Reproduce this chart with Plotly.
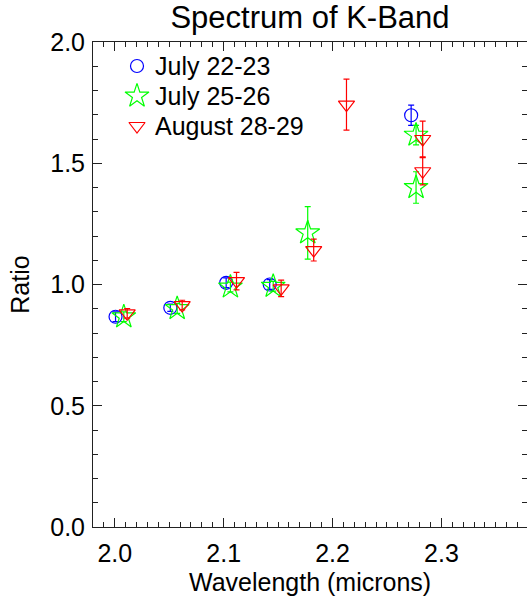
import plotly.graph_objects as go

# Data
blue_x = [2.0007, 2.051, 2.1023, 2.1423, 2.2722]
blue_y = [0.867, 0.904, 1.007, 1.000, 1.698]
blue_e = [0.020, 0.015, 0.020, 0.020, 0.042]

green_x = [2.0083, 2.0573, 2.1062, 2.1455, 2.1772, 2.2767, 2.2767]
green_y = [0.867, 0.901, 0.990, 0.993, 1.213, 1.616, 1.400]
green_e = [0.020, 0.020, 0.020, 0.020, 0.108, 0.040, 0.065]

red_x = [2.0114, 2.0619, 2.1118, 2.1528, 2.1827, 2.2128, 2.2828, 2.2828]
red_y = [0.881, 0.915, 1.014, 0.984, 1.142, 1.742, 1.600, 1.467]
red_e = [0.020, 0.020, 0.036, 0.034, 0.045, 0.105, 0.074, 0.056]

series_names = ["July 22-23", "July 25-26", "August 28-29"]
series_colors = ["#0000ff", "#00ff00", "#ff0000"]
series_symbols = ["circle-open", "star-open", "triangle-down-open"]
series_sizes = [13, 18, 14]
title_text = "Spectrum of K-Band"
x_title = "Wavelength (microns)"
y_title = "Ratio"

FONT = "Liberation Sans, Arial, sans-serif"

fig = go.Figure()

def add(xs, ys, es, i):
    c = series_colors[i]
    fig.add_trace(go.Scatter(
        x=xs, y=ys, mode="markers", name=series_names[i], showlegend=False,
        marker=dict(symbol=series_symbols[i], size=series_sizes[i], color=c,
                    line=dict(color=c, width=1.2)),
        error_y=dict(type="data", array=es, visible=True, color=c,
                     thickness=1.2, width=3),
    ))

add(blue_x, blue_y, blue_e, 0)
add(green_x, green_y, green_e, 1)
add(red_x, red_y, red_e, 2)

# Legend (drawn in a hidden overlay axis measured in plot pixels)
leg_x = 44      # px from the plot's left edge
leg_y = [24, 54, 84]  # px from the plot's top edge
for i, name in enumerate(series_names):
    c = series_colors[i]
    fig.add_trace(go.Scatter(
        x=[leg_x], y=[leg_y[i]], xaxis="x2", yaxis="y2", mode="markers",
        showlegend=False, hoverinfo="skip",
        marker=dict(symbol=series_symbols[i], size=series_sizes[i], color=c,
                    line=dict(color=c, width=1.2)),
    ))
    fig.add_annotation(x=leg_x + 16, y=leg_y[i], xref="x2", yref="y2",
                       text=name, showarrow=False, xanchor="left", yanchor="middle",
                       font=dict(family=FONT, size=25, color="black"))

# x-axis title as annotation for exact placement
fig.add_annotation(x=0.5, y=-0.1134, xref="paper", yref="paper", text=x_title,
                   showarrow=False, xanchor="center", yanchor="middle",
                   font=dict(family=FONT, size=25, color="black"))

axis_common = dict(
    showline=True, linecolor="#222", linewidth=1, mirror="ticks",
    ticks="inside", ticklen=9, tickcolor="#222", tickwidth=1,
    showgrid=False, zeroline=False, automargin=False,
    tickfont=dict(family=FONT, size=25, color="black"),
)

PW, PH = 434, 485

fig.update_layout(
    width=527, height=597,
    paper_bgcolor="white", plot_bgcolor="white",
    margin=dict(l=93, r=0, t=42, b=70),
    title=dict(text=title_text, x=0.5, xref="paper", xanchor="center",
               y=0.971, yref="container", yanchor="middle",
               font=dict(family=FONT, size=31, color="black")),
    xaxis=dict(range=[1.98, 2.3786], dtick=0.1, tick0=2.0, tickformat=".1f",
               minor=dict(dtick=0.01, ticks="inside", ticklen=5, tickcolor="#222"),
               ticklabelstandoff=4,
               **axis_common),
    yaxis=dict(range=[0, 2.0], dtick=0.5, tick0=0, tickformat=".1f",
               minor=dict(dtick=0.1, ticks="inside", ticklen=5, tickcolor="#222"),
               ticklabelstandoff=2,
               title=dict(text=y_title, standoff=13,
                          font=dict(family=FONT, size=25, color="black")),
               **axis_common),
    xaxis2=dict(overlaying="x", range=[0, PW], visible=False, fixedrange=True),
    yaxis2=dict(overlaying="y", range=[PH, 0], visible=False, fixedrange=True),
    showlegend=False,
)

fig.write_html("out.html", config={"displayModeBar": False},
               post_script="document.body.style.margin='0px';")
